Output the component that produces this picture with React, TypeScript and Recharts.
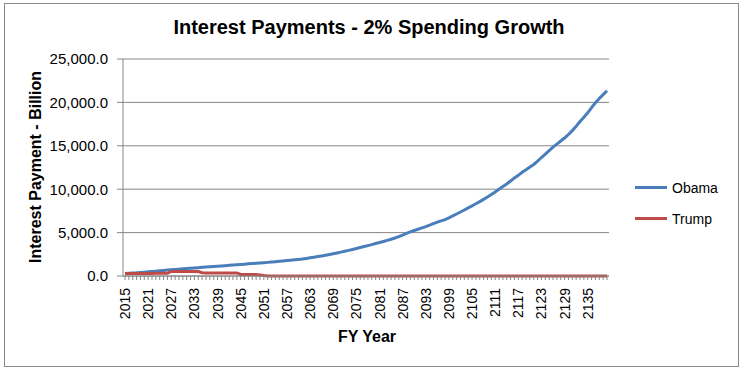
import React from "react";
import { LineChart, Line, XAxis, YAxis, CartesianGrid } from "recharts";

const years: string[] = [
  "2015","2016","2017","2018","2019","2020","2021","2022","2023","2024",
  "2025","2026","2027","2028","2029","2030","2031","2032","2033","2034",
  "2035","2036","2037","2038","2039","2040","2041","2042","2043","2044",
  "2045","2046","2047","2048","2049","2050","2051","2052","2053","2054",
  "2055","2056","2057","2058","2059","2060","2061","2062","2063","2064",
  "2065","2066","2067","2068","2069","2070","2071","2072","2073","2074",
  "2075","2076","2077","2078","2079","2080","2081","2082","2083","2084",
  "2085","2086","2087","2088","2089","2090","2091","2092","2093","2094",
  "2095","2096","2097","2098","2099","2100","2101","2102","2103","2104",
  "2105","2106","2107","2108","2109","2110","2111","2112","2113","2114",
  "2115","2116","2117","2118","2119","2120","2121","2122","2123","2124",
  "2125","2126","2127","2128","2129","2130","2131","2132","2133","2134",
  "2135","2136","2137","2138","2139","2140",
];

const obama: number[] = [
  280, 310, 340, 370, 410, 445, 480, 520, 560, 600,
  640, 680, 715, 750, 790, 830, 860, 895, 930, 960,
  995, 1030, 1060, 1095, 1125, 1160, 1190, 1225, 1260, 1290,
  1325, 1360, 1400, 1430, 1465, 1500, 1535, 1570, 1610, 1650,
  1690, 1730, 1775, 1820, 1865, 1910, 1960, 2025, 2095, 2165,
  2240, 2310, 2390, 2470, 2560, 2650, 2750, 2850, 2950, 3060,
  3170, 3280, 3390, 3500, 3620, 3740, 3860, 3980, 4110, 4240,
  4380, 4530, 4720, 4900, 5080, 5240, 5390, 5540, 5690, 5860,
  6040, 6210, 6350, 6500, 6700, 6920, 7140, 7370, 7610, 7850,
  8080, 8320, 8570, 8830, 9100, 9380, 9680, 10000, 10300, 10600,
  10950, 11300, 11600, 11950, 12250, 12550, 12850, 13230, 13650, 14050,
  14450, 14850, 15200, 15550, 15900, 16300, 16750, 17250, 17800, 18300,
  18800, 19400, 19950, 20450, 20900, 21350,
];

const trump: number[] = [
  260, 290, 300, 300, 300, 300, 300, 300, 310, 310,
  310, 310, 520, 530, 530, 530, 530, 530, 530, 520,
  370, 360, 360, 360, 360, 360, 360, 350, 350, 350,
  180, 180, 180, 180, 170, 120, 50, 0, 0, 0,
  0, 0, 0, 0, 0, 0, 0, 0, 0, 0,
  0, 0, 0, 0, 0, 0, 0, 0, 0, 0,
  0, 0, 0, 0, 0, 0, 0, 0, 0, 0,
  0, 0, 0, 0, 0, 0, 0, 0, 0, 0,
  0, 0, 0, 0, 0, 0, 0, 0, 0, 0,
  0, 0, 0, 0, 0, 0, 0, 0, 0, 0,
  0, 0, 0, 0, 0, 0, 0, 0, 0, 0,
  0, 0, 0, 0, 0, 0, 0, 0, 0, 0,
  0, 0, 0, 0, 0, 0,
];

const yTicks: number[] = [0, 5000, 10000, 15000, 20000, 25000];

const data = years.map((year, i) => ({ year, Obama: obama[i], Trump: trump[i] }));

const FONT = "'Liberation Sans', Arial, sans-serif";
const GRID = "#868686";
const BLUE = "#4A7EBB";
const RED = "#BE4B48";

const fmt = (v: number) =>
  v.toLocaleString("en-US", { minimumFractionDigits: 1, maximumFractionDigits: 1 });

const XTick = (props: any) => {
  const { x, y, payload, index } = props;
  if (index % 6 !== 0) return null;
  return (
    <text
      x={x}
      y={y}
      transform={`rotate(-90, ${x}, ${y})`}
      textAnchor="end"
      dy="0.36em"
      fontSize={14}
      fontFamily={FONT}
      fill="#000"
    >
      {payload.value}
    </text>
  );
};

export default function App() {
  return (
    <div
      style={{
        position: "fixed",
        left: 0,
        top: 0,
        width: 743,
        height: 371,
        background: "#fff",
        overflow: "hidden",
      }}
    >
      <div
        style={{
          position: "absolute",
          left: 4,
          top: 3,
          width: 735,
          height: 364,
          boxSizing: "border-box",
          border: "1px solid #898989",
        }}
      />
      <div style={{ position: "absolute", left: 0, top: 0 }}>
        <LineChart
          width={743}
          height={371}
          data={data}
          margin={{ top: 59, right: 134, bottom: 35, left: 0 }}
        >
          <CartesianGrid vertical={false} stroke={GRID} strokeWidth={1} />
          <XAxis
            dataKey="year"
            interval={0}
            tick={<XTick />}
            tickSize={4}
            tickMargin={8}
            height={60}
            padding={{ left: 2, right: 2 }}
            axisLine={{ stroke: GRID }}
            tickLine={{ stroke: GRID }}
          />
          <YAxis
            domain={[0, 25000]}
            ticks={yTicks}
            tickFormatter={fmt}
            width={123}
            tickSize={6}
            tickMargin={9}
            axisLine={{ stroke: GRID }}
            tickLine={{ stroke: GRID }}
            tick={{ fontSize: 15, fontFamily: FONT, fill: "#000" }}
          />
          <Line
            type="linear"
            dataKey="Obama"
            stroke={BLUE}
            strokeWidth={3}
            dot={false}
            isAnimationActive={false}
          />
          <Line
            type="linear"
            dataKey="Trump"
            stroke={RED}
            strokeWidth={3}
            dot={false}
            isAnimationActive={false}
          />
        </LineChart>
      </div>
      <svg
        width={743}
        height={371}
        style={{ position: "absolute", left: 0, top: 0, pointerEvents: "none" }}
      >
        <text
          x={369}
          y={34}
          textAnchor="middle"
          fontSize={20}
          fontWeight="bold"
          fontFamily={FONT}
          fill="#000"
        >
          Interest Payments - 2% Spending Growth
        </text>
        <text
          x={41}
          y={167}
          transform="rotate(-90, 41, 167)"
          textAnchor="middle"
          fontSize={16}
          fontWeight="bold"
          fontFamily={FONT}
          fill="#000"
        >
          Interest Payment - Billion
        </text>
        <text
          x={367}
          y={342}
          textAnchor="middle"
          fontSize={16}
          fontWeight="bold"
          fontFamily={FONT}
          fill="#000"
        >
          FY Year
        </text>
        <line x1={635} y1={187.5} x2={667} y2={187.5} stroke={BLUE} strokeWidth={3} />
        <text x={672} y={187.5} dy="0.36em" fontSize={14} fontFamily={FONT} fill="#000">
          Obama
        </text>
        <line x1={635} y1={218.5} x2={667} y2={218.5} stroke={RED} strokeWidth={3} />
        <text x={672} y={218.5} dy="0.36em" fontSize={14} fontFamily={FONT} fill="#000">
          Trump
        </text>
      </svg>
    </div>
  );
}
